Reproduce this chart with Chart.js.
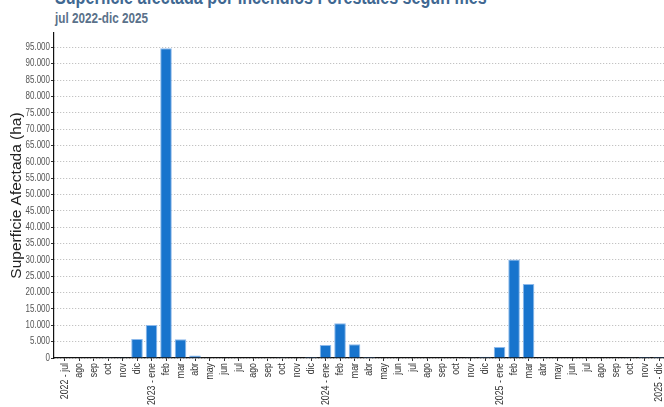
<!DOCTYPE html>
<html>
<head>
<meta charset="utf-8">
<script src="https://cdn.jsdelivr.net/npm/chart.js@4.4.1/dist/chart.umd.min.js"></script>
<style>
  html, body { margin: 0; padding: 0; background: #fff; overflow: hidden; }
  #wrap { position: relative; width: 664px; height: 407px; }
  .ttl { position: absolute; left: 55px; white-space: nowrap; font-family: 'Liberation Sans', Arial, sans-serif; font-weight: bold; transform: scaleX(0.836); transform-origin: 0 0; }
  #title { top: -11.6px; font-size: 19.3px; line-height: 19.3px; color: #3f6892; }
  #subtitle { top: 11.4px; font-size: 14px; line-height: 14px; color: #5a718a; }
  canvas { position: absolute; left: 0; top: 0; }
</style>
</head>
<body>
<div id="wrap">
  <div class="ttl" id="title">Superficie afectada por Incendios Forestales según mes</div>
  <div class="ttl" id="subtitle">jul 2022-dic 2025</div>
  <canvas id="fireChart" width="664" height="407"></canvas>
</div>
<script>
const months = [
    "2022 - jul", "ago", "sep", "oct", "nov", "dic",
    "2023 - ene", "feb", "mar", "abr", "may", "jun", "jul", "ago", "sep", "oct", "nov", "dic",
    "2024 - ene", "feb", "mar", "abr", "may", "jun", "jul", "ago", "sep", "oct", "nov", "dic",
    "2025 - ene", "feb", "mar", "abr", "may", "jun", "jul", "ago", "sep", "oct", "nov", "2025 - dic"
];
const hectares = [
    0, 0, 0, 200, 250, 5800,
    10100, 94700, 5700, 800, 0, 0, 0, 0, 0, 80, 0, 300,
    4000, 10600, 4200, 300, 0, 0, 0, 0, 0, 0, 100, 350,
    3350, 30150, 22600, 250, 0, 0, 0, 0, 0, 80, 300, 300
];
const yTicks = [0, 5000, 10000, 15000, 20000, 25000, 30000, 35000, 40000, 45000,
    50000, 55000, 60000, 65000, 70000, 75000, 80000, 85000, 90000, 95000];

// tick labels in the original are a narrow face; squeeze Arial to imitate it
const narrow = "'Liberation Sans', Arial, sans-serif";
const condense = {
    id: "condense",
    beforeInit: function(chart) {
        const c = chart.ctx;
        const fill = c.fillText.bind(c);
        c.fillText = function(text, x, y, maxWidth) {
            if (c.font.indexOf("10px") >= 0 || c.font.indexOf("11px") >= 0) {
                const w = c.measureText(text).width * 0.8;
                return fill(text, x, y, w);
            }
            return maxWidth === undefined ? fill(text, x, y) : fill(text, x, y, maxWidth);
        };
    }
};

function fmt(v) {
    return String(v).replace(/\B(?=(\d{3})+(?!\d))/g, ".");
}

const ctx = document.getElementById("fireChart").getContext("2d");
const fireChart = new Chart(ctx, {
    type: "bar",
    data: {
        datasets: [
            {
                label: "Superficie Afectada (ha)",
                data: hectares.map((v, i) => ({ x: i, y: v })),
                backgroundColor: "#1874cd",
                borderColor: "rgba(140, 185, 235, 1)",
                borderWidth: 1,
                barPercentage: 0.8,
                categoryPercentage: 1.0,
            },
        ],
    },
    plugins: [condense],
    options: {
        responsive: false,
        animation: false,
        layout: {
            padding: { top: 33, left: 0, right: 0, bottom: 0 }
        },
        plugins: {
            legend: { display: false },
            tooltip: { enabled: false }
        },
        scales: {
            x: {
                type: "linear",
                offset: false,
                min: -0.724,
                max: 41.34,
                afterBuildTicks: function(scale) {
                    scale.ticks = months.map((m, i) => ({ value: i }));
                },
                afterFit: function(scale) {
                    scale.height = 49;
                    scale.paddingLeft = 0;
                    scale.paddingRight = 0;
                },
                ticks: {
                    autoSkip: false,
                    minRotation: 90,
                    maxRotation: 90,
                    padding: 2,
                    color: "#333",
                    font: { family: narrow, size: 11 },
                    callback: function(value) {
                        return months[value];
                    }
                },
                grid: {
                    offset: false,
                    drawOnChartArea: false,
                    tickLength: 3,
                    tickColor: "#333"
                },
                border: { color: "#111", width: 1.2 }
            },
            y: {
                min: 0,
                max: 99400,
                afterBuildTicks: function(scale) {
                    scale.ticks = yTicks.map(v => ({ value: v }));
                },
                afterFit: function(scale) {
                    scale.width = 54;
                    scale.paddingTop = 0;
                    scale.paddingBottom = 0;
                },
                title: {
                    display: true,
                    text: "Superficie Afectada (ha)",
                    color: "#222",
                    font: { family: narrow, size: 15.5 },
                    padding: { top: 7, bottom: 0 }
                },
                ticks: {
                    padding: 1,
                    color: "#555",
                    font: { family: narrow, size: 10 },
                    callback: function(value) {
                        return fmt(value);
                    }
                },
                grid: {
                    color: "#b5b5b5",
                    lineWidth: 1,
                    tickLength: 3,
                    tickColor: "#333",
                    tickBorderDash: []
                },
                border: { color: "#111", width: 1.2, dash: [1, 2] }
            }
        }
    },
});
</script>
</body>
</html>
